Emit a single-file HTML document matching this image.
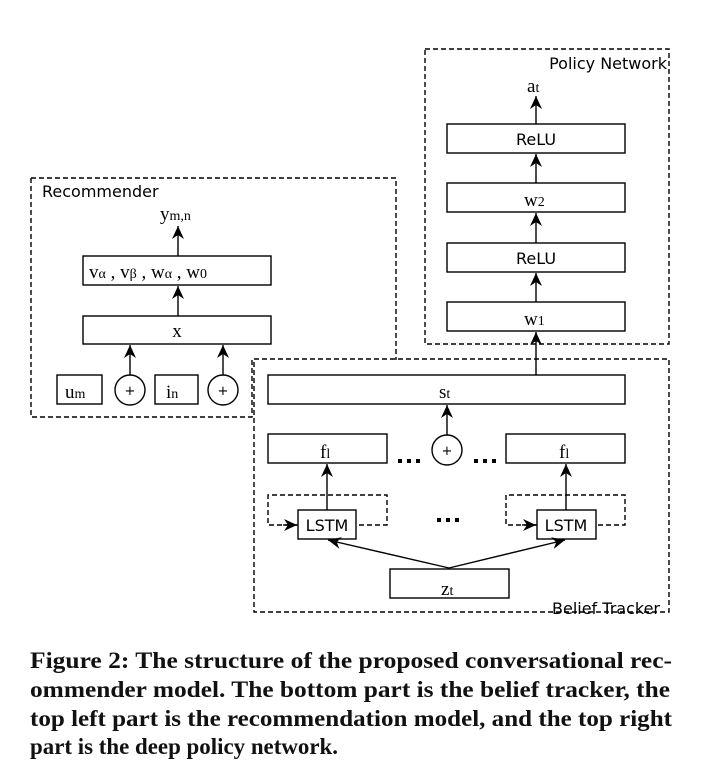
<!DOCTYPE html>
<html><head><meta charset="utf-8"><style>
html,body{margin:0;padding:0;background:#fff;}
svg{display:block;}
.s{font-family:"Liberation Serif",serif;}
.d{font-family:"DejaVu Sans",sans-serif;}
</style></head><body>
<svg width="720" height="782" viewBox="0 0 720 782" xmlns="http://www.w3.org/2000/svg">
<defs>
<marker id="a" markerWidth="14" markerHeight="14" refX="13" refY="6" orient="auto" markerUnits="userSpaceOnUse"><path d="M0,0 L13,6 L0,12 L4,6 z" fill="#000"/></marker>
</defs>
<g fill="none" stroke="#000" stroke-width="1.4">
<path d="M31,178 H396 V360 M252,360 V417 H31 V178" stroke-dasharray="5,3"/>
<rect x="425" y="49" width="244" height="295" stroke-dasharray="5,3"/>
<rect x="254" y="359" width="415" height="253" stroke-dasharray="5,3"/>
<rect x="83" y="256" width="188" height="29"/>
<rect x="83" y="316" width="188" height="28"/>
<rect x="57" y="375" width="45" height="29"/>
<rect x="155" y="375" width="43" height="29"/>
<circle cx="130" cy="390" r="15"/>
<circle cx="223" cy="390" r="15"/>
<line x1="178" y1="256" x2="178" y2="226" marker-end="url(#a)"/>
<line x1="178" y1="316" x2="178" y2="286" marker-end="url(#a)"/>
<line x1="130" y1="375" x2="130" y2="345" marker-end="url(#a)"/>
<line x1="223" y1="375" x2="223" y2="345" marker-end="url(#a)"/>
<rect x="447" y="124" width="178" height="29"/>
<rect x="447" y="183" width="178" height="29"/>
<rect x="447" y="243" width="178" height="29"/>
<rect x="447" y="302" width="178" height="29"/>
<line x1="536" y1="124" x2="536" y2="96" marker-end="url(#a)"/>
<line x1="536" y1="183" x2="536" y2="154" marker-end="url(#a)"/>
<line x1="536" y1="243" x2="536" y2="213" marker-end="url(#a)"/>
<line x1="536" y1="302" x2="536" y2="273" marker-end="url(#a)"/>
<line x1="536" y1="375" x2="536" y2="332" marker-end="url(#a)"/>
<rect x="268" y="375" width="357" height="29"/>
<rect x="268" y="434" width="119" height="29"/>
<rect x="506" y="434" width="119" height="29"/>
<circle cx="447" cy="450" r="15"/>
<line x1="447" y1="435" x2="447" y2="405" marker-end="url(#a)"/>
<path d="M298,525 H268 V495 H387 V525 H356" stroke-dasharray="5,3"/>
<path d="M537,525 H506 V495 H625 V525 H596" stroke-dasharray="5,3"/>
<line x1="283" y1="525" x2="297" y2="525" marker-end="url(#a)"/>
<line x1="522" y1="525" x2="536" y2="525" marker-end="url(#a)"/>
<rect x="298" y="510" width="58" height="29"/>
<rect x="537" y="510" width="59" height="29"/>
<line x1="327" y1="510" x2="327" y2="464" marker-end="url(#a)"/>
<line x1="566" y1="510" x2="566" y2="464" marker-end="url(#a)"/>
<rect x="390" y="569" width="119" height="29"/>
<line x1="449" y1="568" x2="328" y2="540" marker-end="url(#a)"/>
<line x1="449" y1="568" x2="565" y2="540" marker-end="url(#a)"/>
</g>
<g fill="#000">
<rect x="398" y="459" width="4" height="4"/><rect x="407" y="459" width="4" height="4"/><rect x="416" y="459" width="4" height="4"/>
<rect x="474" y="459" width="4" height="4"/><rect x="483" y="459" width="4" height="4"/><rect x="492" y="459" width="4" height="4"/>
<rect x="437" y="518" width="4" height="4"/><rect x="446" y="518" width="4" height="4"/><rect x="455" y="518" width="4" height="4"/>
</g>
<g font-size="16" class="d" fill="#000">
<text x="42" y="197">Recommender</text>
<text x="667" y="69" text-anchor="end">Policy Network</text>
<text x="660" y="614" text-anchor="end">Belief Tracker</text>
<text x="536" y="145" text-anchor="middle">ReLU</text>
<text x="536" y="264" text-anchor="middle">ReLU</text>
<text x="327" y="531" text-anchor="middle">LSTM</text>
<text x="566" y="531" text-anchor="middle">LSTM</text>
<text x="130" y="395" text-anchor="middle" font-size="13">+</text>
<text x="223" y="395" text-anchor="middle" font-size="13">+</text>
<text x="447" y="455" text-anchor="middle" font-size="13">+</text>
</g>
<g font-size="19" class="s" fill="#000">
<text x="160" y="220">y<tspan font-size="14">m,n</tspan></text>
<text x="89" y="278">v<tspan font-size="14">α</tspan> , v<tspan font-size="14">β</tspan> , w<tspan font-size="14">α</tspan> , w<tspan font-size="14">0</tspan></text>
<text x="177" y="337" text-anchor="middle">x</text>
<text x="65" y="398">u<tspan font-size="14">m</tspan></text>
<text x="166" y="398">i<tspan font-size="14">n</tspan></text>
<text x="527" y="92">a<tspan font-size="14">t</tspan></text>
<text x="524" y="206">w<tspan font-size="14">2</tspan></text>
<text x="524" y="325">w<tspan font-size="14">1</tspan></text>
<text x="439" y="398">s<tspan font-size="14">t</tspan></text>
<text x="320" y="458">f<tspan font-size="14">l</tspan></text>
<text x="559" y="458">f<tspan font-size="14">l</tspan></text>
<text x="441" y="595">z<tspan font-size="14">t</tspan></text>
</g>
<g font-size="23" font-weight="bold" class="s" fill="#111">
<text x="30" y="668" textLength="642" lengthAdjust="spacingAndGlyphs">Figure 2: The structure of the proposed conversational rec-</text>
<text x="30" y="697" textLength="640" lengthAdjust="spacingAndGlyphs">ommender model. The bottom part is the belief tracker, the</text>
<text x="30" y="726" textLength="642" lengthAdjust="spacingAndGlyphs">top left part is the recommendation model, and the top right</text>
<text x="30" y="754" textLength="308" lengthAdjust="spacingAndGlyphs">part is the deep policy network.</text>
</g>
</svg>
</body></html>
